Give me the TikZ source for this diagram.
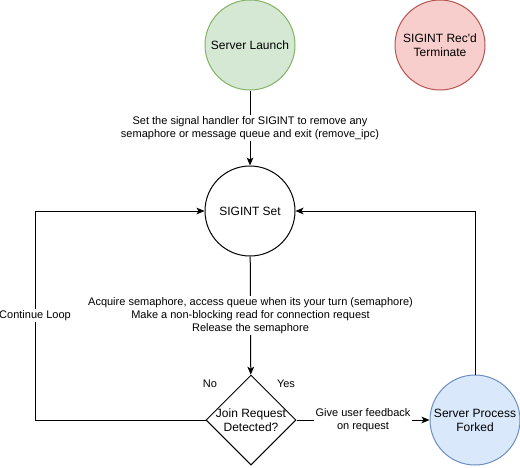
\documentclass[tikz,border=0pt]{standalone}
\usepackage{fontspec}
\setmainfont{Liberation Sans}
\usetikzlibrary{shapes.geometric,arrows.meta}
\definecolor{launchfill}{HTML}{D5E8D4}
\definecolor{launchline}{HTML}{82B366}
\definecolor{termfill}{HTML}{F8CECC}
\definecolor{termline}{HTML}{B85450}
\definecolor{forkfill}{HTML}{DAE8FC}
\definecolor{forkline}{HTML}{6C8EBF}
\tikzset{
	state/.style = {circle, draw, line width=0.75pt, minimum size=67.5pt, inner sep=0pt, align=center, font=\fontsize{9}{10.5}\selectfont},
	decision/.style = {diamond, draw, line width=0.75pt, minimum width=67.5pt, minimum height=67.5pt, inner sep=0pt},
	flow/.style = {line width=0.75pt, -{Stealth[length=6pt,width=5pt,inset=1.5pt]}},
	lbl/.style = {fill=white, inner sep=1pt, align=center, font=\fontsize{8.25}{9.75}\selectfont}
}
\begin{document}
\begin{tikzpicture}[x=0.75pt, y=-0.75pt]
	\useasboundingbox (0,0) rectangle (520,467);
%	\draw[help lines] (0,0) grid (520,467);
	\node [state, fill=launchfill, draw=launchline] (launch) at (250,45) {Server Launch};
	\node [state, fill=termfill, draw=termline] (term) at (440,45) {SIGINT Rec\textquotesingle d\\Terminate};
	\node [state] (sigset) at (250,211) {SIGINT Set};
	\node [decision] (join) at (251,420) {};
	\node [align=center, font=\fontsize{9}{10.5}\selectfont] (jointext) at (join.center) {Join Request\\Detected?};
	\node [state, fill=forkfill, draw=forkline] (fork) at (475,420) {Server Process\\Forked};
	\coordinate (loopcorner) at (35,420);
	\draw [flow] (launch) -- node [lbl] {Set the signal handler for SIGINT to remove any\\semaphore or message queue and exit (remove\_ipc)} (sigset);
	\draw [flow] (sigset) -- node [lbl] {Acquire semaphore, access queue when its your turn (semaphore)\\Make a non-blocking read for connection request\\Release the semaphore} (join);
	\draw [flow] (join.east) -- node [lbl] {Give user feedback\\on request} (fork);
	\draw [flow] (join.west) -- (loopcorner) |- node [lbl, pos=0.25] {Continue Loop} (sigset.west);
	\draw [flow] (fork.north) |- (sigset.east);
	\node [lbl, fill=none] (no) at (210,384) {No};
	\node [lbl, fill=none] (yes) at (286,384) {Yes};
\end{tikzpicture}
\end{document}
